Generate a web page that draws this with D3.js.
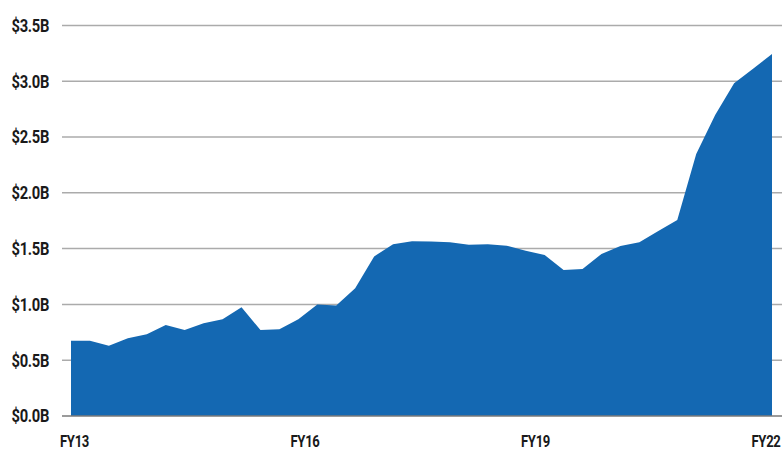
<!DOCTYPE html>
<html>
<head>
<meta charset="utf-8">
<script src="https://cdn.jsdelivr.net/npm/d3@7"></script>
<style>
  html, body { margin: 0; padding: 0; background: #fff; }
  svg { display: block; }
  text { font-family: Roboto, "Noto Sans", sans-serif; font-weight: 700; fill: #1a1a1a; }
</style>
</head>
<body>
<svg id="chart" width="783" height="451"></svg>
<script>
const quarters = [
  "FY13 Q1","FY13 Q2","FY13 Q3","FY13 Q4",
  "FY14 Q1","FY14 Q2","FY14 Q3","FY14 Q4",
  "FY15 Q1","FY15 Q2","FY15 Q3","FY15 Q4",
  "FY16 Q1","FY16 Q2","FY16 Q3","FY16 Q4",
  "FY17 Q1","FY17 Q2","FY17 Q3","FY17 Q4",
  "FY18 Q1","FY18 Q2","FY18 Q3","FY18 Q4",
  "FY19 Q1","FY19 Q2","FY19 Q3","FY19 Q4",
  "FY20 Q1","FY20 Q2","FY20 Q3","FY20 Q4",
  "FY21 Q1","FY21 Q2","FY21 Q3","FY21 Q4",
  "FY22 Q1","FY22 Q2"
];
const values = [
  0.675, 0.675, 0.630, 0.696, 0.732, 0.815, 0.770, 0.830, 0.866, 0.974,
  0.770, 0.777, 0.866, 1.000, 0.990, 1.144, 1.430, 1.540, 1.565, 1.563,
  1.556, 1.535, 1.538, 1.526, 1.481, 1.443, 1.308, 1.317, 1.452, 1.523,
  1.556, 1.658, 1.756, 2.348, 2.697, 2.981, 3.112, 3.244
];
const yTicks = [0, 0.5, 1.0, 1.5, 2.0, 2.5, 3.0, 3.5];
const xTickLabels = ["FY13", "FY16", "FY19", "FY22"];

const svg = d3.select("#chart");

const x = d3.scaleLinear().domain([0, quarters.length - 1]).range([71, 772]);
const y = d3.scaleLinear().domain([0, 3.5]).range([416, 25.4]);
const xl = d3.scalePoint().domain(xTickLabels).range([74.5, 766]);

// gridlines
svg.append("g").selectAll("line")
  .data(yTicks.filter(d => d > 0))
  .join("line")
  .attr("x1", 62).attr("x2", 782)
  .attr("y1", d => y(d)).attr("y2", d => y(d))
  .attr("stroke", "#ababab").attr("stroke-width", 1.5);

// area
const area = d3.area()
  .x((d, i) => x(i))
  .y0(y(0))
  .y1(d => y(d));
svg.append("path")
  .datum(values)
  .attr("d", area)
  .attr("fill", "#1468b2");

// baseline
svg.append("line")
  .attr("x1", 62).attr("x2", 782)
  .attr("y1", y(0)).attr("y2", y(0))
  .attr("stroke", "#7a7a7a").attr("stroke-width", 1.5);

// y labels
svg.append("g").selectAll("text")
  .data(yTicks)
  .join("text")
  .attr("transform", d => `translate(49,${y(d)}) scale(0.82,1)`)
  .attr("dy", "0.36em")
  .attr("text-anchor", "end")
  .style("font-size", "18px")
  .style("letter-spacing", "-0.4px")
  .text(d => "$" + d.toFixed(1) + "B");

// x labels
svg.append("g").selectAll("text")
  .data(xTickLabels)
  .join("text")
  .attr("transform", d => `translate(${xl(d)},446.5) scale(0.77,1)`)
  .attr("text-anchor", "middle")
  .style("font-size", "17px")
  .style("letter-spacing", "-0.4px")
  .text(d => d);
</script>
</body>
</html>
